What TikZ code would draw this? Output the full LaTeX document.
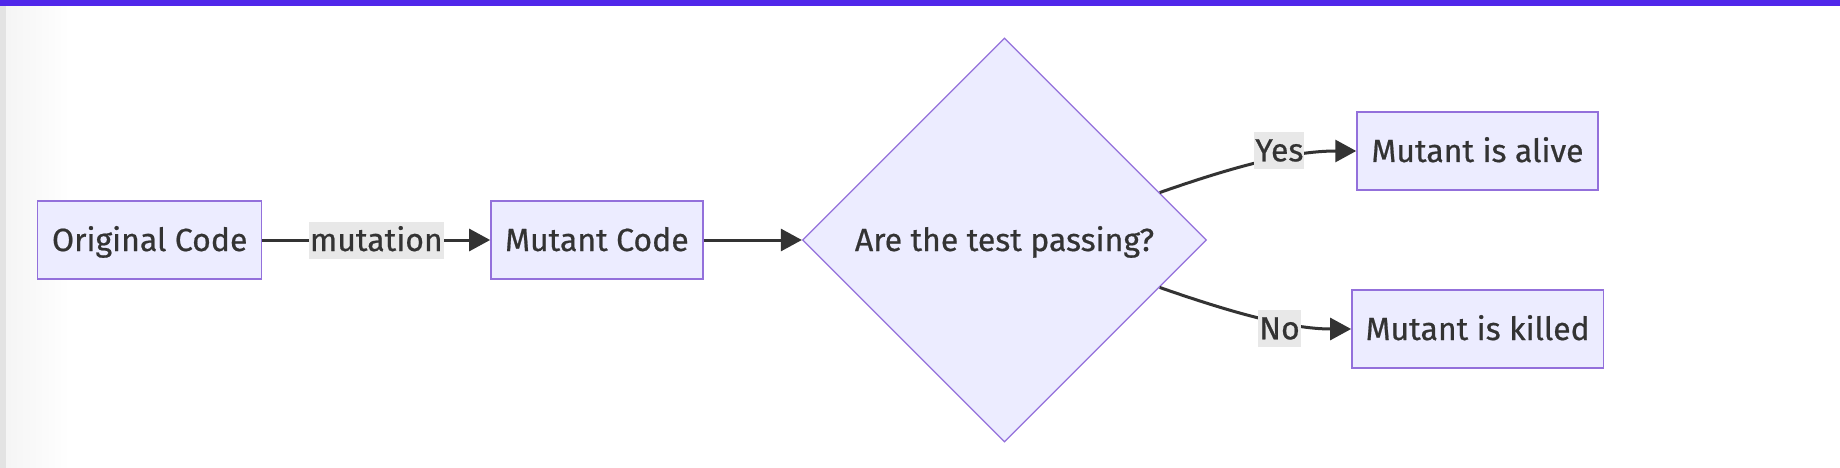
\documentclass[tikz,border=0pt]{standalone}
\usepackage{fontspec}
\setmainfont{Fira Sans}
\newfontfamily\diagfont{Fira Sans}[FakeBold=0.6]
\usetikzlibrary{shapes.geometric,arrows.meta}
\definecolor{boxfill}{HTML}{ECECFF}
\definecolor{boxline}{HTML}{9370DB}
\definecolor{edgecol}{HTML}{333333}
\definecolor{lblbg}{HTML}{E8E8E8}
\definecolor{topbar}{HTML}{5027EA}
\definecolor{txt}{HTML}{333333}
\begin{document}
\begin{tikzpicture}[x=1pt,y=-1pt,
  font=\diagfont\fontsize{32}{38}\selectfont, text=txt,
  box/.style={draw=boxline, fill=boxfill, line width=1.5pt, minimum height=78pt, inner sep=0pt, text height=28pt, text depth=6pt},
  decision/.style={diamond, aspect=1, draw=boxline, fill=boxfill, line width=1.3pt, minimum size=404pt, inner sep=0pt, text height=28pt, text depth=6pt},
  edge/.style={draw=edgecol, line width=3pt, -{Triangle[length=21pt,width=22pt]}},
  elabel/.style={fill=lblbg, inner xsep=1pt, inner ysep=0pt, minimum height=37pt, text height=28pt, text depth=6pt, text=txt}]
\fill[white] (0,0) rectangle (1840,468);
\useasboundingbox (0,0) rectangle (1840,468);
\shade[left color=black!4, right color=white] (6,6) rectangle (70,468);
\fill[black!11] (0,6) rectangle (6,468);
\fill[topbar] (0,0) rectangle (1840,6);

\node[box, minimum width=224pt] (orig) at (149.7,240) {Original Code};
\node[box, minimum width=212pt] (mut) at (596.9,240) {Mutant Code};
\node[decision] (dec) at (1004.5,240) {Are the test passing?};
\node[box, minimum width=241pt] (alive) at (1477.5,151) {Mutant is alive};
\node[box, minimum width=251.6pt] (killed) at (1477.7,329) {Mutant is killed};

\draw[edge] (orig.east) -- node[elabel] (lmut) {mutation} (mut.west);
\draw[edge] (mut.east) -- (dec.west);
\draw[edge] (dec.17.6) .. controls (1230,168) and (1290,151) .. (alive.west);
\draw[edge] (dec.-17.6) .. controls (1230,312) and (1290,329) .. (killed.west);
\node[elabel] (lyes) at (1279.3,150.3) {Yes};
\node[elabel] (lno) at (1279.5,328.3) {No};
\end{tikzpicture}
\end{document}
